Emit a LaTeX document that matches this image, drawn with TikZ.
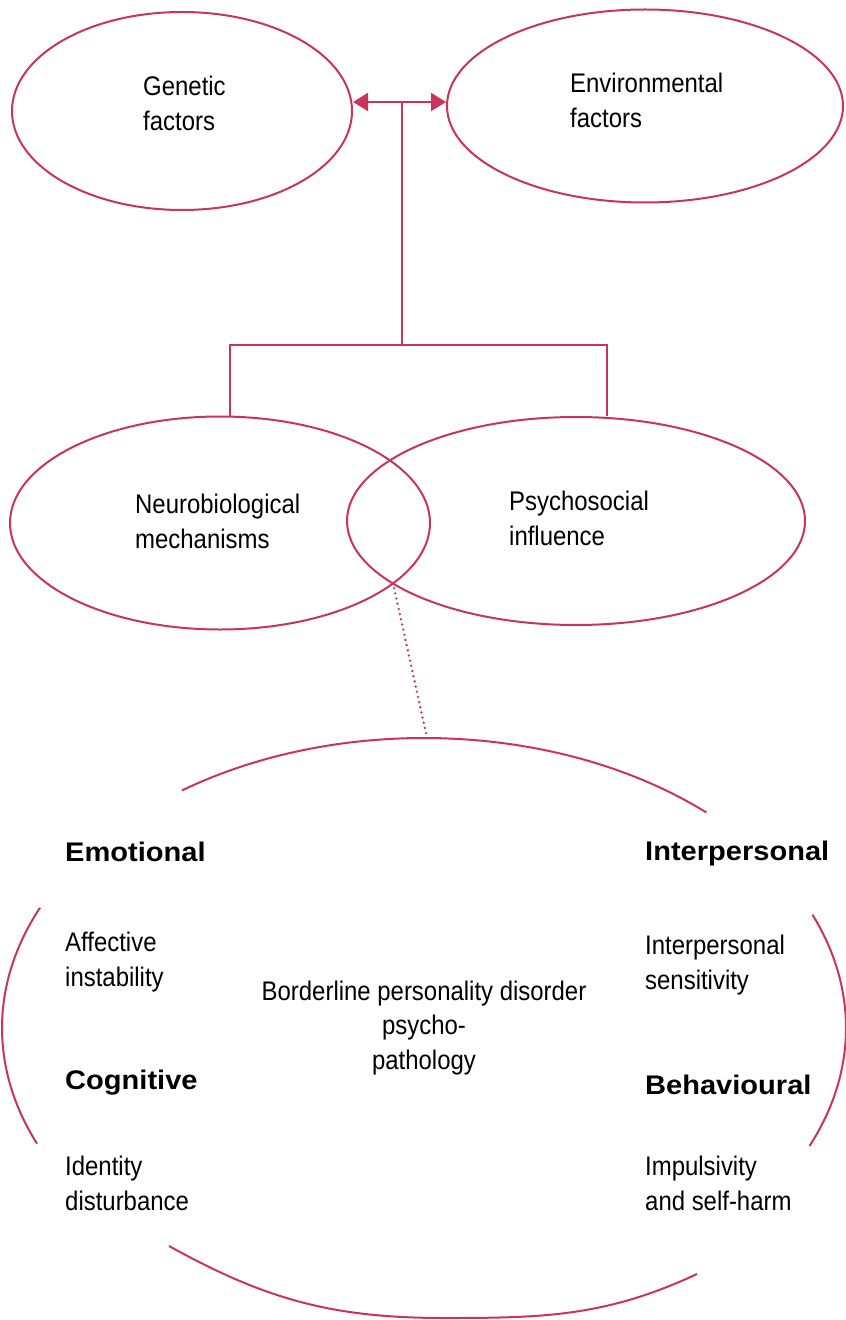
\documentclass[tikz,border=0pt]{standalone}
\usepackage{fontspec}
\setmainfont{Liberation Sans}[FakeStretch=0.89]
\newfontfamily\hdfont{Liberation Sans}[FakeStretch=1.08]
\usetikzlibrary{shapes.geometric,arrows.meta}
\definecolor{accent}{RGB}{200,52,94}
\begin{document}
\begin{tikzpicture}[x=1bp,y=1bp,
  line/.style={draw=accent,line width=2bp},
  oval/.style={ellipse,draw=accent,line width=2bp,inner sep=0pt},
  txt/.style={align=left,anchor=west,inner sep=0pt,font=\fontsize{27}{35}\selectfont},
  hd/.style={anchor=west,inner sep=0pt,font=\hdfont\bfseries\fontsize{27}{35}\selectfont},
  arr/.style={line,{Triangle[length=15bp,width=18bp]}-{Triangle[length=15bp,width=18bp]}}]
\useasboundingbox (0,0) rectangle (845,-1320);

% top ellipses
\node[oval,minimum width=340bp,minimum height=198bp] (gen) at (182,-111) {};
\node[oval,minimum width=396bp,minimum height=193bp] (env) at (645,-106) {};
\node[txt] (gent) at (143,-103) {Genetic\\factors};
\node[txt] (envt) at (570,-100) {Environmental\\factors};

% middle ellipses
\node[oval,minimum width=420bp,minimum height=213bp] (neuro) at (220,-523) {};
\node[oval,minimum width=458bp,minimum height=208bp] (psy) at (576,-521) {};
\node[txt] (neurot) at (135,-521) {Neurobiological\\mechanisms};
\node[txt] (psyt) at (509,-518) {Psychosocial\\influence};

% connectors
\coordinate (mid) at (402,-102);
\coordinate (join) at (402,-345);
\coordinate (jl) at (230,-345);
\coordinate (jr) at (607,-345);
\draw[arr] (mid -| gen.east) -- (mid -| env.west);
\draw[line] (mid) -- (join);
\draw[line] (jl |- neuro.north) -- (jl) -- (jr) -- (jr |- psy.north);

% big ellipse arcs (centre 424,-1028; radii 422 x 290)
\coordinate (bc) at (424,-1028);
\draw[line] (bc) ++(48:422 and 290) arc[start angle=48,end angle=125,x radius=422,y radius=290];
\draw[line] (bc) ++(155.5:422 and 290) arc[start angle=155.5,end angle=203.5,x radius=422,y radius=290];
\draw[line] (bc) ++(-24:422 and 290) arc[start angle=-24,end angle=23,x radius=422,y radius=290];
\coordinate (bl) at (169,-1246);
\coordinate (bb) at (445,-1318);
\coordinate (br) at (697,-1274);
\draw[line] (bl) to[out=-29,in=180] (bb) to[out=0,in=-155] (br);

% dotted link
\coordinate (cross) at (393,-583);
\coordinate (toparc) at (427,-738);
\draw[draw=accent,line width=2.6bp,line cap=round,dash pattern=on 0bp off 5.3bp] (cross) -- (toparc);

% texts in the big ellipse
\node[txt,anchor=center,align=center] (bpd) at (424,-1028) {Borderline personality disorder\\psycho-\\pathology};
\node[hd] (emo) at (65,-852) {Emotional};
\node[hd] (inter) at (645,-854) {Interpersonal};
\node[txt] (aff) at (65,-962) {Affective\\instability};
\node[txt] (sens) at (645,-965) {Interpersonal\\sensitivity};
\node[hd] (cog) at (65,-1083) {Cognitive};
\node[hd] (beh) at (645,-1085) {Behavioural};
\node[txt] (idn) at (65,-1183) {Identity\\disturbance};
\node[txt] (imp) at (645,-1183) {Impulsivity\\and self-harm};
\end{tikzpicture}
\end{document}
